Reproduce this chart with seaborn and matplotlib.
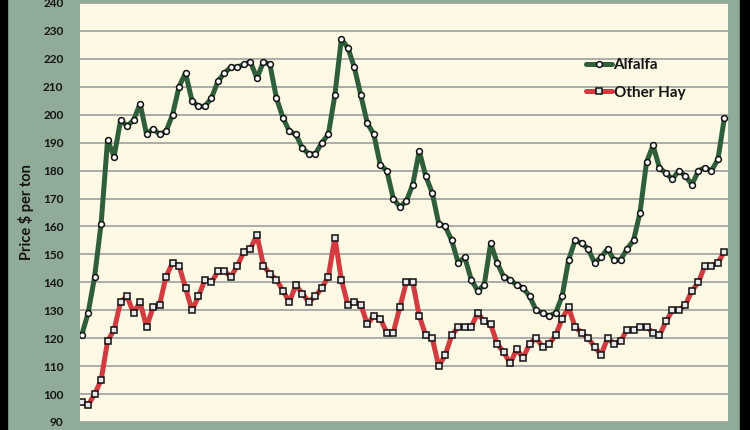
import numpy as np
import pandas as pd
import matplotlib
matplotlib.use('Agg')
import matplotlib.pyplot as plt
import seaborn as sns
from matplotlib.patches import Rectangle

# Monthly hay prices, $ per ton
alfalfa = [121, 129, 142, 161, 191, 185, 198, 196, 198, 204, 193, 195, 193, 194, 200, 210, 215,
           205, 203, 203, 206, 212, 215, 217, 217, 218, 219, 213, 219, 218, 206, 199, 194,
           193, 188, 186, 186, 190, 193, 207, 227, 224, 217, 207, 197, 193, 182, 180, 170, 167,
           169, 175, 187, 178, 172, 161, 160, 155, 147, 149, 141, 137, 139, 154, 147,
           142, 141, 139, 138, 135, 130, 129, 128, 129, 135, 148, 155, 154, 152, 147, 149, 152,
           148, 148, 152, 155, 165, 183, 189, 181, 179, 177, 180, 178, 175, 180, 181, 180, 184, 199]
other_hay = [97, 96, 100, 105, 119, 123, 133, 135, 129, 133, 124, 131, 132, 142, 147, 146, 138,
             130, 135, 141, 140, 144, 144, 142, 146, 151, 152, 157, 146, 143, 141, 137, 133,
             139, 136, 133, 135, 138, 142, 156, 141, 132, 133, 132, 125, 128, 127, 122, 122, 131,
             140, 140, 128, 121, 120, 110, 114, 121, 124, 124, 124, 129, 126, 125, 118,
             115, 111, 116, 113, 118, 120, 117, 118, 121, 127, 131, 124, 122, 120, 117, 114, 120,
             118, 119, 123, 123, 124, 124, 122, 121, 126, 130, 130, 132, 137, 140, 146, 146, 147, 151]
months = np.arange(len(alfalfa))
y_ticks = list(range(90, 250, 10))

df = pd.DataFrame({'month': months, 'Alfalfa': alfalfa, 'Other Hay': other_hay})

sns.set_style('white')
plt.rcParams['font.family'] = ['Lato', 'DejaVu Sans']

fig = plt.figure(figsize=(7.5, 4.3), dpi=100, facecolor='#90ab98')
ax = fig.add_axes([80 / 750, 1 - 422 / 430, 648 / 750, 419 / 430])
ax.set_facecolor('#fdf9e4')

# dark edges of the scanned frame
fig.add_artist(Rectangle((0, 0), 7 / 750, 1, transform=fig.transFigure, color='black', zorder=-1))
fig.add_artist(Rectangle((740 / 750, 0), 10 / 750, 1, transform=fig.transFigure, color='black', zorder=-1))

sns.lineplot(data=df, x='month', y='Alfalfa', ax=ax, color='#2f5e3a', linewidth=3.6,
             marker='o', markersize=4.2, markerfacecolor='white', markeredgecolor='#111111',
             markeredgewidth=1.1, label='Alfalfa', zorder=3)
sns.lineplot(data=df, x='month', y='Other Hay', ax=ax, color='#d23b40', linewidth=3.6,
             marker='s', markersize=3.8, markerfacecolor='#e8e8e8', markeredgecolor='#111111',
             markeredgewidth=1.1, label='Other Hay', zorder=3)

ax.set_ylim(90, 240)
ax.set_xlim(-0.25, len(months) - 0.45)
ax.set_yticks(y_ticks)
ax.set_yticklabels([str(t) for t in y_ticks], fontsize=8.5, fontweight='bold', color='#141414')
ax.grid(axis='y', color='#ababab', linewidth=1.4)
ax.set_axisbelow(True)
ax.set_xticks([])
ax.set_xticks(months + 0.5, minor=True)
ax.tick_params(axis='x', which='minor', length=7, width=1.4, color='#c9d1c3', direction='out')
ax.tick_params(axis='y', length=3, width=1.4, color='#ababab', pad=9)
for s in ax.spines.values():
    s.set_visible(False)

ax.set_xlabel('')
ax.set_ylabel('Price $ per ton', fontsize=10.5, fontweight='bold', color='#141414', labelpad=6)

leg = ax.legend(loc='upper left', bbox_to_anchor=(586 / 750, 1 - 58 / 430),
                bbox_transform=fig.transFigure, frameon=False, fontsize=11,
                handlelength=1.7, handletextpad=0.1, labelspacing=0.9, borderpad=0,
                borderaxespad=0, numpoints=1)
for t in leg.get_texts():
    t.set_fontweight('bold')
    t.set_color('#141414')

fig.savefig('out.png', dpi=100, facecolor=fig.get_facecolor())
